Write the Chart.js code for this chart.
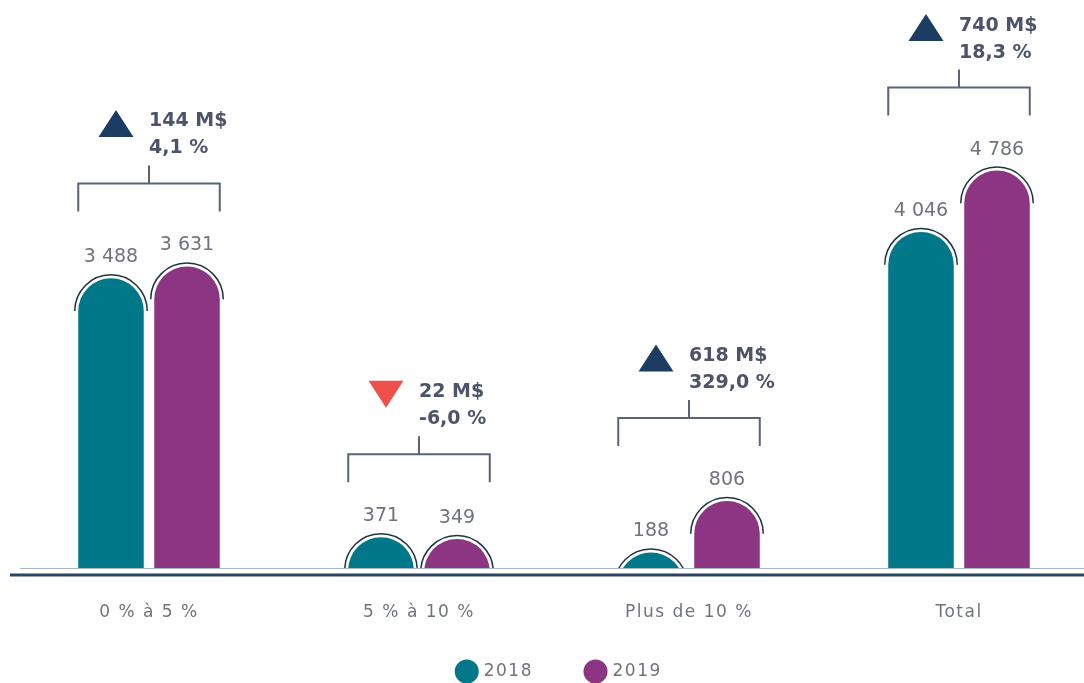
<!DOCTYPE html>
<html>
<head>
<meta charset="utf-8">
<title>Écart 2018 - 2019</title>
<script src="https://cdn.jsdelivr.net/npm/chart.js@4"></script>
<style>
    html, body { margin: 0; padding: 0; background: #fff; overflow: hidden; }
    #wrap { position: absolute; left: 0; top: 0; width: 1100px; height: 700px; }
</style>
</head>
<body>
<div id="wrap"><canvas id="chart"></canvas></div>
<script>
// Data
const categories = ['0 % à 5 %', '5 % à 10 %', 'Plus de 10 %', 'Total'];
const values2018 = [3488, 371, 188, 4046];
const values2019 = [3631, 349, 806, 4786];
const changeAmounts = ['144 M$', '22 M$', '618 M$', '740 M$'];
const changePercents = ['4,1 %', '-6,0 %', '329,0 %', '18,3 %'];
const changeUp = [true, false, true, true];

const TEAL = '#00788a';
const PURPLE = '#8c3583';
const NAVY = '#1d3c62';
const RED = '#f0504c';
const TEXT_GREY = '#6f747c';
const NOTE_COLOR = '#4c536a';
const BRACKET_COLOR = '#5b6377';

function formatNumber(v) {
    return String(v).replace(/\B(?=(\d{3})+(?!\d))/g, ' ');
}

// Letter spacing for axis and legend text
const spacing = {
    id: 'spacing',
    beforeDraw(chart) {
        chart.ctx.letterSpacing = '1.5px';
    }
};

// Bars with a round cap and a thin arc above, clipped at the baseline
const roundBars = {
    id: 'roundBars',
    beforeDatasetsDraw(chart) {
        const ctx = chart.ctx;
        const base = chart.scales.y.getPixelForValue(0);

        // baseline lines
        ctx.save();
        ctx.strokeStyle = '#a8b8c8';
        ctx.lineWidth = 1;
        ctx.beginPath();
        ctx.moveTo(20, base + 0.5);
        ctx.lineTo(chart.width, base + 0.5);
        ctx.stroke();
        ctx.strokeStyle = '#2a4661';
        ctx.lineWidth = 3;
        ctx.beginPath();
        ctx.moveTo(10, base + 7);
        ctx.lineTo(chart.width, base + 7);
        ctx.stroke();
        ctx.restore();

        ctx.save();
        ctx.beginPath();
        ctx.rect(0, 0, chart.width, base);
        ctx.clip();
        chart.data.datasets.forEach((ds, di) => {
            chart.getDatasetMeta(di).data.forEach(bar => {
                const r = bar.width / 2;
                const cy = bar.y + r;
                ctx.fillStyle = ds.backgroundColor;
                ctx.beginPath();
                ctx.moveTo(bar.x - r, base);
                ctx.lineTo(bar.x - r, cy);
                ctx.arc(bar.x, cy, r, Math.PI, 0);
                ctx.lineTo(bar.x + r, base);
                ctx.closePath();
                ctx.fill();

                ctx.strokeStyle = '#1e3346';
                ctx.lineWidth = 1.5;
                ctx.beginPath();
                ctx.arc(bar.x, cy, r + 3.5, Math.PI, 0);
                ctx.stroke();
            });
        });
        ctx.restore();
        return false;
    }
};

// Value labels, brackets and change notes
const notes = {
    id: 'notes',
    afterDraw(chart) {
        const ctx = chart.ctx;
        const meta18 = chart.getDatasetMeta(0).data;
        const meta19 = chart.getDatasetMeta(1).data;
        ctx.save();
        ctx.letterSpacing = '0px';
        ctx.textBaseline = 'middle';

        // values above bars
        ctx.font = '19px "DejaVu Sans"';
        ctx.fillStyle = TEXT_GREY;
        ctx.textAlign = 'center';
        [meta18, meta19].forEach((bars, di) => {
            const vals = di === 0 ? values2018 : values2019;
            bars.forEach((bar, i) => {
                ctx.fillText(formatNumber(vals[i]), bar.x, bar.y - 21);
            });
        });

        categories.forEach((cat, i) => {
            const a = meta18[i];
            const b = meta19[i];
            const left = a.x - a.width / 2;
            const right = b.x + b.width / 2;
            const mid = chart.scales.x.getPixelForValue(i);
            const top = Math.min(a.y, b.y) - 83;

            // bracket
            ctx.strokeStyle = BRACKET_COLOR;
            ctx.lineWidth = 2;
            ctx.beginPath();
            ctx.moveTo(left, top + 28);
            ctx.lineTo(left, top);
            ctx.lineTo(right, top);
            ctx.lineTo(right, top + 28);
            ctx.moveTo(mid, top);
            ctx.lineTo(mid, top - 18);
            ctx.stroke();

            // triangle
            const tx = mid - 33;
            const ty = top - 60;
            ctx.fillStyle = changeUp[i] ? NAVY : RED;
            ctx.beginPath();
            if (changeUp[i]) {
                ctx.moveTo(tx, ty - 13.5);
                ctx.lineTo(tx + 17.5, ty + 13.5);
                ctx.lineTo(tx - 17.5, ty + 13.5);
            } else {
                ctx.moveTo(tx - 17.5, ty - 13.5);
                ctx.lineTo(tx + 17.5, ty - 13.5);
                ctx.lineTo(tx, ty + 13.5);
            }
            ctx.closePath();
            ctx.fill();

            // text
            ctx.fillStyle = NOTE_COLOR;
            ctx.font = 'bold 19px "DejaVu Sans"';
            ctx.textAlign = 'left';
            ctx.fillText(changeAmounts[i], mid, top - 62);
            ctx.fillText(changePercents[i], mid, top - 35);
        });
        ctx.restore();
    }
};

const ctx = document.getElementById('chart').getContext('2d');
const chart = new Chart(ctx, {
    type: 'bar',
    data: {
        labels: categories,
        datasets: [{
            label: '2018',
            data: values2018,
            backgroundColor: TEAL,
            barPercentage: 0.862,
            categoryPercentage: 0.563
        }, {
            label: '2019',
            data: values2019,
            backgroundColor: PURPLE,
            barPercentage: 0.862,
            categoryPercentage: 0.563
        }]
    },
    options: {
        responsive: true,
        maintainAspectRatio: false,
        devicePixelRatio: 1,
        animation: false,
        layout: {
            padding: { left: 14, right: 6, top: 0, bottom: 10 }
        },
        plugins: {
            legend: {
                position: 'bottom',
                labels: {
                    usePointStyle: true,
                    pointStyle: 'circle',
                    padding: 54,
                    color: TEXT_GREY,
                    font: { family: 'DejaVu Sans', size: 17 }
                }
            },
            tooltip: { enabled: false }
        },
        scales: {
            x: {
                grid: { display: false, drawTicks: false },
                border: { display: false },
                ticks: {
                    // mirror avoids clipping the labels to the short axis box
                    mirror: true,
                    padding: -55,
                    color: TEXT_GREY,
                    font: { family: 'DejaVu Sans', size: 17 }
                },
                afterFit(scale) {
                    scale.height = 41;
                }
            },
            y: {
                display: false,
                min: 0,
                max: 6840
            }
        }
    },
    plugins: [spacing, roundBars, notes]
});
</script>
</body>
</html>
